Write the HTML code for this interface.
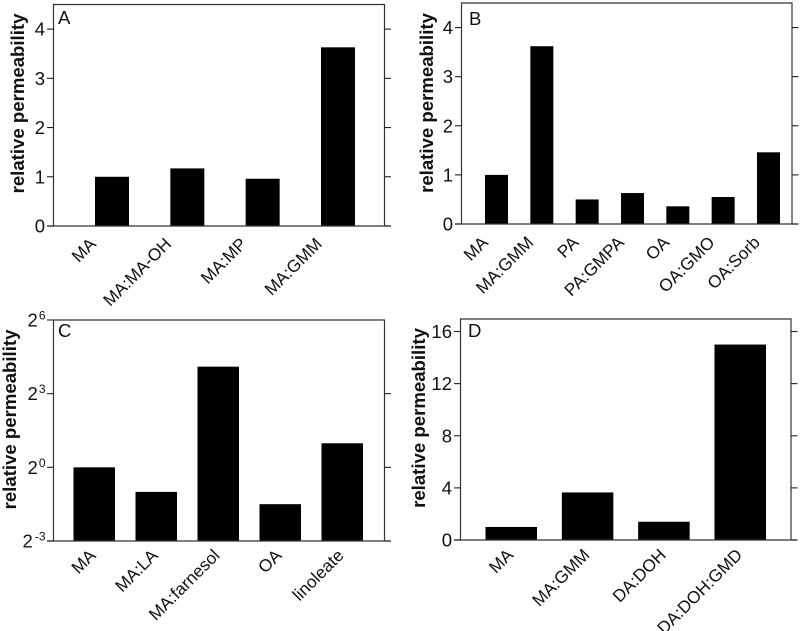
<!DOCTYPE html>
<html lang="en">
<head>
<meta charset="utf-8">
<title>Relative permeability panels</title>
<style>
html,body{margin:0;padding:0;background:#fff;width:800px;height:631px;overflow:hidden}
svg{display:block;font-family:"Liberation Sans",Arial,sans-serif}
text{fill:#111}
</style>
</head>
<body>
<svg id="figure" width="800" height="631" viewBox="0 0 800 631" xmlns="http://www.w3.org/2000/svg"></svg>
<script>
const panelACategories = ['MA','MA:MA-OH','MA:MP','MA:GMM'];
const panelAValues = [1, 1.17, 0.96, 3.63];
const panelATicks = [0, 1, 2, 3, 4];

const panelBCategories = ['MA','MA:GMM','PA','PA:GMPA','OA','OA:GMO','OA:Sorb'];
const panelBValues = [1, 3.62, 0.5, 0.63, 0.36, 0.55, 1.46];
const panelBTicks = [0, 1, 2, 3, 4];

const panelCCategories = ['MA','MA:LA','MA:farnesol','OA','linoleate'];
const panelCExponents = [0, -1, 4.1, -1.5, 0.98];
const panelCTickExponents = [-3, 0, 3, 6];

const panelDCategories = ['MA','MA:GMM','DA:DOH','DA:DOH:GMD'];
const panelDValues = [1, 3.65, 1.4, 15];
const panelDTicks = [0, 4, 8, 12, 16];

const NS = 'http://www.w3.org/2000/svg';
const fig = document.getElementById('figure');

function mk(tag, attrs, parent) {
  const el = document.createElementNS(NS, tag);
  for (const k in attrs) el.setAttribute(k, attrs[k]);
  parent.appendChild(el);
  return el;
}

function drawPanel(p) {
  const g = mk('g', {}, fig);
  
  

  const y = v => p.bottom - (v - p.min) * (p.bottom - p.top) / (p.max - p.min);
  const barLeft = i => p.firstBar + i * p.step;

  p.values.forEach((v, i) => {
    const bar = mk('rect', {x: barLeft(i), y: y(v), width: p.barWidth, height: p.bottom - y(v), fill: '#000'}, g);
    
    
  });

  const frame = mk('path', {
    d: `M${p.left} ${p.bottom}V${p.top}H${p.right}V${p.bottom}`,
    fill: 'none', stroke: '#333', 'stroke-width': 1.2
  }, g);
  
  

  const base = mk('line', {x1: p.left - 6.5, x2: p.right + 6.5, y1: p.bottom, y2: p.bottom, stroke: '#333', 'stroke-width': 1.2}, g);
  
  

  p.ticks.forEach(t => {
    const ty = y(t);
    const lt = mk('line', {x1: p.left - 6.5, x2: p.left, y1: ty, y2: ty, stroke: '#222', 'stroke-width': 1.1}, g);
    
    
    if (ty > p.top + 1) {
      const rt = mk('line', {x1: p.right, x2: p.right + 6.5, y1: ty, y2: ty, stroke: '#222', 'stroke-width': 1.1}, g);
      
      
    }
    const label = mk('text', {x: p.left - p.tickGap, y: ty + 6.5, 'text-anchor': 'end', 'font-size': 18.5}, g);
    
    
    if (p.logBase) {
      const b = mk('tspan', {}, label);
      b.textContent = p.logBase;
      const s = mk('tspan', {dy: -7, dx: t < 0 ? 2 : 1, 'font-size': 12}, label);
      s.textContent = String(t);
    } else {
      label.textContent = String(t);
    }
  });

  p.categories.forEach((c, i) => {
    const lx = barLeft(i) + p.barWidth / 2 + p.labelDx;
    const t = mk('text', {
      transform: `translate(${lx} ${p.labelY}) rotate(-45)`,
      'text-anchor': 'end', 'font-size': 17.2
    }, g);
    
    
    t.textContent = c;
  });

  const title = mk('text', {
    transform: `translate(${p.titleX} ${p.titleY}) rotate(-90)`,
    'text-anchor': 'middle', 'font-size': 18.6, 'font-weight': 'bold'
  }, g);
  
  
  title.textContent = 'relative permeability';

  const letter = mk('text', {x: p.letterX, y: p.letterY, 'font-size': 18.5}, g);
  
  
  letter.textContent = p.letter;
}

drawPanel({
  letter: 'A', categories: panelACategories, values: panelAValues, ticks: panelATicks,
  min: 0, max: 4.5, left: 53.5, right: 384.5, top: 4.5, bottom: 226,
  firstBar: 95, step: 75.33, barWidth: 34, labelDx: -15, labelY: 245, tickGap: 8.5,
  titleX: 24, titleY: 103.5, letterX: 58, letterY: 24
});
drawPanel({
  letter: 'B', categories: panelBCategories, values: panelBValues, ticks: panelBTicks,
  min: 0, max: 4.5, left: 461.5, right: 792, top: 3, bottom: 224,
  firstBar: 485, step: 45.33, barWidth: 23, labelDx: -7.5, labelY: 243.5, tickGap: 8.5,
  titleX: 433, titleY: 103, letterX: 469, letterY: 25
});
drawPanel({
  letter: 'C', categories: panelCCategories, values: panelCExponents, ticks: panelCTickExponents,
  logBase: '2',
  min: -3, max: 6, left: 53.5, right: 384.5, top: 320, bottom: 541,
  firstBar: 73.5, step: 62, barWidth: 41.5, labelDx: 2.5, labelY: 556.5, tickGap: 8,
  titleX: 16, titleY: 419.5, letterX: 58, letterY: 337
});
drawPanel({
  letter: 'D', categories: panelDCategories, values: panelDValues, ticks: panelDTicks,
  min: 0, max: 16.96, left: 460.5, right: 791, top: 319, bottom: 540,
  firstBar: 485.5, step: 76.33, barWidth: 51.5, labelDx: 3, labelY: 556, tickGap: 8.5,
  titleX: 425, titleY: 418, letterX: 468, letterY: 337
});
</script>
</body>
</html>
